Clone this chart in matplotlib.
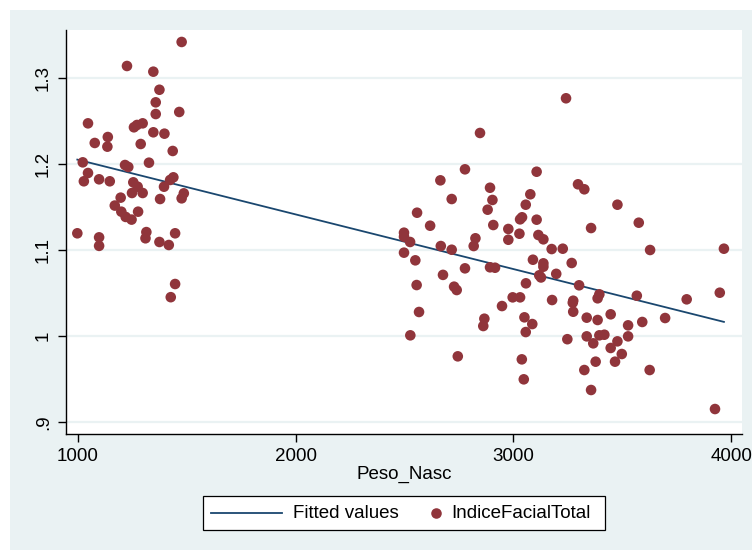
import numpy as np
import matplotlib.pyplot as plt
from matplotlib.patches import Rectangle
from matplotlib.lines import Line2D

plt.rcParams['font.family'] = ['Liberation Sans', 'DejaVu Sans']

# birth weight (g) and total facial index
peso_nasc = [
    1477, 1226, 1347, 1375, 1358, 1358, 1466, 1047, 1258, 1272,
    1298, 1347, 1398, 1078, 1138, 1136, 1289, 1436, 1023, 1217,
    1232, 1327, 1047, 1028, 1098, 1147, 1439, 1424, 1396, 1255,
    1275, 1487, 1477, 1249, 1298, 1378, 1197, 1170, 1200, 1220,
    1247, 1277, 998, 1098, 1098, 1315, 1311, 1375, 1418, 1447,
    1447, 1427,
    3242, 2847, 2778, 3107, 2665, 3297, 3326, 2893, 2717, 2904,
    3078, 3057, 2882, 2558, 3031, 3040, 3107, 2618, 2908, 2977,
    3028, 2977, 2498, 2498, 2526, 2826, 2818, 3115, 3138, 2667,
    2717, 3176, 3227, 2498, 2550, 3090, 3138, 3138, 3268, 2893,
    2916, 2778, 2677, 3119, 3127, 3197, 3058, 3302, 2556, 2728,
    2740, 2997, 3031, 2948, 3178, 3275, 3273, 3275, 2567, 2867,
    2862, 3051, 3087, 3057, 2527, 3248, 2745, 3039, 3048, 3478,
    3576, 3357, 3628, 3967, 3395, 3387, 3567, 3796, 3948, 3337,
    3387, 3447, 3527, 3592, 3697, 3337, 3367, 3395, 3418, 3478,
    3527, 3447, 3498, 3467, 3378, 3326, 3626, 3357, 3926,
]
indice_facial = [
    1.3415, 1.3136, 1.307, 1.286, 1.2714, 1.2578, 1.2602, 1.247, 1.2424, 1.2451,
    1.247, 1.2366, 1.235, 1.2242, 1.2311, 1.2199, 1.223, 1.2149, 1.2017, 1.1986,
    1.1963, 1.2013, 1.1893, 1.1797, 1.182, 1.1797, 1.1843, 1.1812, 1.1734, 1.1785,
    1.1734, 1.1657, 1.1599, 1.1661, 1.1661, 1.1591, 1.1607, 1.1515, 1.1444, 1.1383,
    1.1352, 1.1444, 1.1193, 1.1146, 1.1047, 1.1207, 1.1135, 1.1092, 1.1057, 1.1193,
    1.0604, 1.0451,
    1.2761, 1.2358, 1.1936, 1.1908, 1.1808, 1.1762, 1.1704, 1.1722, 1.1591, 1.158,
    1.1646, 1.1525, 1.1467, 1.1432, 1.1355, 1.1379, 1.1351, 1.1281, 1.1289, 1.1243,
    1.1188, 1.1118, 1.12, 1.1153, 1.1092, 1.1135, 1.1045, 1.1173, 1.1123, 1.1045,
    1.1002, 1.101, 1.1014, 1.0968, 1.0879, 1.0886, 1.0844, 1.0805, 1.0848, 1.0798,
    1.0793, 1.0786, 1.071, 1.0705, 1.068, 1.0722, 1.0612, 1.0589, 1.0592, 1.0573,
    1.0534, 1.0449, 1.0449, 1.0348, 1.0418, 1.041, 1.0387, 1.0282, 1.0279, 1.0201,
    1.0116, 1.0217, 1.0139, 1.0046, 1.0008, 0.9963, 0.9764, 0.9729, 0.9497, 1.1525,
    1.1316, 1.1254, 1.0999, 1.1014, 1.0484, 1.0438, 1.0468, 1.0426, 1.0503, 1.0213,
    1.0186, 1.0252, 1.0124, 1.0163, 1.0209, 0.9996, 0.9915, 1.0008, 1.0015, 0.9938,
    0.9996, 0.9861, 0.9791, 0.9702, 0.9702, 0.9605, 0.9605, 0.9373, 0.9152,
]

x_ticks = [1000, 2000, 3000, 4000]
y_ticks = [0.9, 1.0, 1.1, 1.2, 1.3]
y_tick_labels = ['.9', '1', '1.1', '1.2', '1.3']

bg = '#EAF2F3'
maroon = '#90353B'
navy = '#1A476F'
fs = 13.5

x = np.array(peso_nasc, dtype=float)
y = np.array(indice_facial)
b, a = np.polyfit(x, y, 1)
xs = np.array([x.min(), x.max()])
fitted = a + b * xs

W, H = 752, 550
fig = plt.figure(figsize=(W / 100, H / 100), dpi=100)
fig.patches.append(Rectangle((10 / W, 0), 1, 1 - 10 / H, transform=fig.transFigure,
                             facecolor=bg, edgecolor='none', zorder=-5))

ax = fig.add_axes([66 / W, 1 - 434 / H, 676 / W, 404 / H])
ax.set_facecolor('white')

ax.plot(xs, fitted, color=navy, lw=1.3, zorder=2)
ax.scatter(x, y, s=58, color=maroon, edgecolors='none', zorder=3)

ax.set_xlim(946, 4050)
ax.set_ylim(0.8862, 1.3554)
ax.set_xticks(x_ticks)
ax.set_yticks(y_ticks)
ax.set_yticklabels(y_tick_labels, rotation=90, va='center')
for t in y_ticks:
    ax.axhline(t, color=bg, lw=1.6, zorder=1)

for side in ['top', 'right']:
    ax.spines[side].set_visible(False)
for side in ['left', 'bottom']:
    ax.spines[side].set_linewidth(1.0)
    ax.spines[side].set_color('black')
ax.tick_params(axis='both', length=6, width=1.0, labelsize=fs, pad=4)
ax.set_xlabel('Peso_Nasc', fontsize=fs, labelpad=1)

# legend box below the axis title
ly = 1 - 513 / H
fig.patches.append(Rectangle((203 / W, 1 - 530 / H), 402 / W, 34 / H, transform=fig.transFigure,
                             facecolor='white', edgecolor='black', lw=0.9, zorder=1))
fig.lines.append(Line2D([211 / W, 282 / W], [ly, ly], transform=fig.transFigure,
                        color=navy, lw=1.3, zorder=2))
fig.lines.append(Line2D([435.5 / W], [ly], transform=fig.transFigure, marker='o',
                        markersize=7.6, color=maroon, markeredgewidth=0, linestyle='none', zorder=2))
fig.text(293 / W, ly, 'Fitted values', fontsize=fs, va='center', ha='left', zorder=3)
fig.text(451 / W, ly, 'IndiceFacialTotal', fontsize=fs, va='center', ha='left', zorder=3)

fig.savefig('out.png', dpi=100, facecolor='white')
